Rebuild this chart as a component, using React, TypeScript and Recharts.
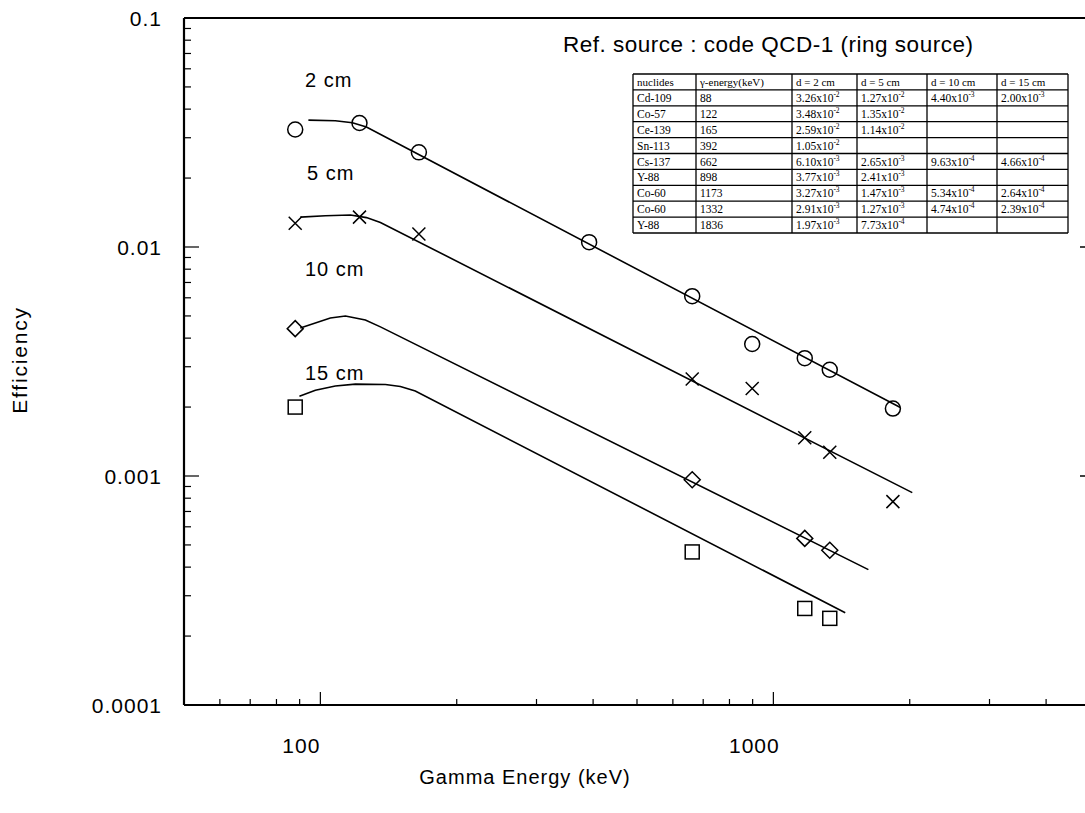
import { ComposedChart, Line, Scatter, XAxis, YAxis } from "recharts";

// measured points (table in the figure)
const nuclides = ["Cd-109", "Co-57", "Ce-139", "Sn-113", "Cs-137", "Y-88", "Co-60", "Co-60", "Y-88"];
const energies = [88, 122, 165, 392, 662, 898, 1173, 1332, 1836];
const eff2cm = [3.26e-2, 3.48e-2, 2.59e-2, 1.05e-2, 6.1e-3, 3.77e-3, 3.27e-3, 2.91e-3, 1.97e-3];
const eff5cm = [1.27e-2, 1.35e-2, 1.14e-2, null, 2.65e-3, 2.41e-3, 1.47e-3, 1.27e-3, 7.73e-4];
const eff10cm = [4.4e-3, null, null, null, 9.63e-4, null, 5.34e-4, 4.74e-4, null];
const eff15cm = [2.0e-3, null, null, null, 4.66e-4, null, 2.64e-4, 2.39e-4, null];

const distances = ["2 cm", "5 cm", "10 cm", "15 cm"];
const headers = ["nuclides", "\u03b3-energy(keV)", "d = 2 cm", "d = 5 cm", "d = 10 cm", "d = 15 cm"];

// fitted curves
const fit2cmE = [94.1, 107.9, 117.7, 126.4, 1907];
const fit2cmV = [0.0358, 0.0356, 0.0349, 0.0334, 0.00199];
const fit5cmE = [90.3, 102.6, 116.5, 126.4, 135.7, 2026];
const fit5cmV = [0.0135, 0.0137, 0.0138, 0.01344, 0.0128, 0.000846];
const fit10cmE = [90.3, 105.2, 113.6, 125.7, 135.7, 1621];
const fit10cmV = [0.00443, 0.0049, 0.005, 0.0048, 0.00448, 0.00039];
const fit15cmE = [89.9, 97.5, 107.9, 119.5, 139.2, 150.2, 162.0, 1441];
const fit15cmV = [0.00223, 0.00237, 0.00247, 0.00252, 0.00251, 0.00246, 0.00235, 0.000253];

const xMajorTicks = [100, 1000];
const xMinorTicks = [50, 60, 70, 80, 90, 200, 300, 400, 500, 600, 700, 800, 900, 2000, 3000, 4000, 5000];
const yMajorTicks = [0.1, 0.01, 0.001, 0.0001];
const yMinorTicks = [
  0.09, 0.08, 0.07, 0.06, 0.05, 0.04, 0.03, 0.02,
  0.009, 0.008, 0.007, 0.006, 0.005, 0.004, 0.003, 0.002,
  0.0009, 0.0008, 0.0007, 0.0006, 0.0005, 0.0004, 0.0003, 0.0002,
];

const pts = (xs: number[], ys: (number | null)[]) =>
  xs.map((e, i) => ({ e, v: ys[i] })).filter((p) => p.v != null);

const FONT = "'Liberation Sans', Arial, Helvetica, sans-serif";
const SERIF = "'Liberation Serif', 'Times New Roman', serif";

const isMajor = (v: number, list: number[]) => list.some((m) => Math.abs(v - m) / m < 1e-6);

const XTick = (props: any) => {
  const { x, y, payload } = props;
  const major = isMajor(payload.value, xMajorTicks);
  return (
    <g>
      <line x1={x} x2={x} y1={y} y2={y - (major ? 13 : 6)} stroke="#000" strokeWidth={1.2} />
      {major && (
        <text x={x - 19} y={y + 48} textAnchor="middle" fontFamily={FONT} fontSize={21} letterSpacing={1} fill="#000">
          {payload.value}
        </text>
      )}
    </g>
  );
};

const YTick = (props: any) => {
  const { x, y, payload } = props;
  const major = isMajor(payload.value, yMajorTicks);
  return (
    <g>
      <line x1={x} x2={x + (major ? 15 : 7)} y1={y} y2={y} stroke="#000" strokeWidth={1.2} />
      {major && (
        <text x={x - 22} y={y + 8} textAnchor="end" fontFamily={FONT} fontSize={21} letterSpacing={1} fill="#000">
          {String(payload.value)}
        </text>
      )}
    </g>
  );
};

const RightTick = (props: any) => {
  const { x, y } = props;
  return <line x1={x} x2={x - 10} y1={y} y2={y} stroke="#000" strokeWidth={1.5} />;
};

const Circle = (p: any) => <circle cx={p.cx} cy={p.cy} r={7.5} fill="none" stroke="#000" strokeWidth={1.5} />;
const Cross = (p: any) => (
  <path
    d={`M${p.cx - 6.5},${p.cy - 6.5}L${p.cx + 6.5},${p.cy + 6.5}M${p.cx - 6.5},${p.cy + 6.5}L${p.cx + 6.5},${p.cy - 6.5}`}
    stroke="#000"
    strokeWidth={1.5}
    fill="none"
  />
);
const Diamond = (p: any) => (
  <path
    d={`M${p.cx},${p.cy - 8}L${p.cx + 8},${p.cy}L${p.cx},${p.cy + 8}L${p.cx - 8},${p.cy}Z`}
    stroke="#000"
    strokeWidth={1.5}
    fill="none"
  />
);
const Square = (p: any) => (
  <rect x={p.cx - 7} y={p.cy - 7} width={14} height={14} stroke="#000" strokeWidth={1.5} fill="none" />
);

const fmt = (v: number | null) => {
  if (v == null) return null;
  const k = Math.floor(Math.log10(v));
  const m = (v / Math.pow(10, k)).toFixed(2);
  return { m, k };
};

const series = [
  { fitE: fit2cmE, fitV: fit2cmV, eff: eff2cm, shape: Circle },
  { fitE: fit5cmE, fitV: fit5cmV, eff: eff5cm, shape: Cross },
  { fitE: fit10cmE, fitV: fit10cmV, eff: eff10cm, shape: Diamond },
  { fitE: fit15cmE, fitV: fit15cmV, eff: eff15cm, shape: Square },
];

const labelPos = [
  { x: 305, y: 87 },
  { x: 307, y: 180 },
  { x: 305, y: 276 },
  { x: 305, y: 380 },
];

const colX = [633, 696, 792, 857, 927, 997, 1068];
const tableTop = 74;
const rowH = 15.9;

const InfoTable = () => {
  const rows = nuclides.map((n, i) => [n, String(energies[i]), eff2cm[i], eff5cm[i], eff10cm[i], eff15cm[i]]);
  const nRows = rows.length + 1;
  return (
    <g fontFamily={SERIF} fill="#000">
      {Array.from({ length: nRows + 1 }, (_, r) => (
        <line
          key={"h" + r}
          x1={colX[0]}
          x2={colX[colX.length - 1]}
          y1={tableTop + r * rowH}
          y2={tableTop + r * rowH}
          stroke="#000"
          strokeWidth={1.3}
        />
      ))}
      {colX.map((cx, c) => (
        <line key={"v" + c} x1={cx} x2={cx} y1={tableTop} y2={tableTop + nRows * rowH} stroke="#000" strokeWidth={1.3} />
      ))}
      {headers.map((h, c) => (
        <text key={"t" + c} x={colX[c] + 4} y={tableTop + 11.5} fontSize={11}>
          {h}
        </text>
      ))}
      {rows.map((row, r) =>
        row.map((cell, c) => {
          const y = tableTop + (r + 1) * rowH + 12;
          if (c < 2) {
            return (
              <text key={r + "-" + c} x={colX[c] + 4} y={y} fontSize={11.5}>
                {cell as string}
              </text>
            );
          }
          const f = fmt(cell as number | null);
          if (!f) return null;
          return (
            <text key={r + "-" + c} x={colX[c] + 4} y={y} fontSize={11.5}>
              {f.m}x10
              <tspan dy={-5} fontSize={7.5}>
                {String(f.k)}
              </tspan>
            </text>
          );
        })
      )}
    </g>
  );
};

export default function App() {
  return (
    <div style={{ position: "absolute", left: 0, top: 0, width: 1085, height: 813, overflow: "hidden", background: "#fff" }}>
      <ComposedChart width={1100} height={813} margin={{ top: 17, right: 9, bottom: 107, left: 183 }}>
        <XAxis
          xAxisId="bottom"
          type="number"
          dataKey="e"
          scale="log"
          domain={[50, 5000]}
          allowDataOverflow
          ticks={[...xMinorTicks, ...xMajorTicks]}
          interval={0}
          height={1}
          tickSize={0}
          tickMargin={0}
          tick={<XTick />}
          axisLine={{ stroke: "#000", strokeWidth: 2 }}
        />
        <XAxis
          xAxisId="top"
          orientation="top"
          type="number"
          dataKey="e"
          scale="log"
          domain={[50, 5000]}
          allowDataOverflow
          height={1}
          tick={false}
          tickLine={false}
          axisLine={{ stroke: "#000", strokeWidth: 1.8 }}
        />
        <YAxis
          yAxisId="left"
          type="number"
          dataKey="v"
          scale="log"
          domain={[0.0001, 0.1]}
          allowDataOverflow
          ticks={[...yMinorTicks, ...yMajorTicks]}
          interval={0}
          width={1}
          tickSize={0}
          tickMargin={0}
          tick={<YTick />}
          axisLine={{ stroke: "#000", strokeWidth: 2.2 }}
        />
        <YAxis
          yAxisId="right"
          orientation="right"
          type="number"
          dataKey="v"
          scale="log"
          domain={[0.0001, 0.1]}
          allowDataOverflow
          ticks={[0.01, 0.001]}
          interval={0}
          width={1}
          tickSize={0}
          tickMargin={0}
          tick={<RightTick />}
          axisLine={false}
        />
        {series.map((s, i) => (
          <Line
            key={"fit" + i}
            xAxisId="bottom"
            yAxisId="left"
            data={pts(s.fitE, s.fitV)}
            dataKey="v"
            type="linear"
            stroke="#000"
            strokeWidth={1.6}
            dot={false}
            activeDot={false}
            isAnimationActive={false}
          />
        ))}
        {series.map((s, i) => (
          <Scatter
            key={"pts" + i}
            xAxisId="bottom"
            yAxisId="left"
            data={pts(energies, s.eff)}
            dataKey="v"
            shape={s.shape}
            isAnimationActive={false}
          />
        ))}
      </ComposedChart>
      <svg width={1085} height={813} style={{ position: "absolute", left: 0, top: 0, pointerEvents: "none" }}>
        <text x={563} y={52} fontFamily={FONT} fontSize={22.5} letterSpacing={0.5} fill="#000">
          Ref. source : code QCD-1 (ring source)
        </text>
        {distances.map((d, i) => (
          <text key={d} x={labelPos[i].x} y={labelPos[i].y} fontFamily={FONT} fontSize={20} letterSpacing={1} fill="#000">
            {d}
          </text>
        ))}
        <InfoTable />
        <text x={525} y={784} textAnchor="middle" fontFamily={FONT} fontSize={20} letterSpacing={1} fill="#000">
          Gamma Energy (keV)
        </text>
        <text
          x={0}
          y={0}
          transform="translate(27,360) rotate(-90)"
          textAnchor="middle"
          fontFamily={FONT}
          fontSize={21}
          letterSpacing={1.8}
          fill="#000"
        >
          Efficiency
        </text>
      </svg>
    </div>
  );
}
